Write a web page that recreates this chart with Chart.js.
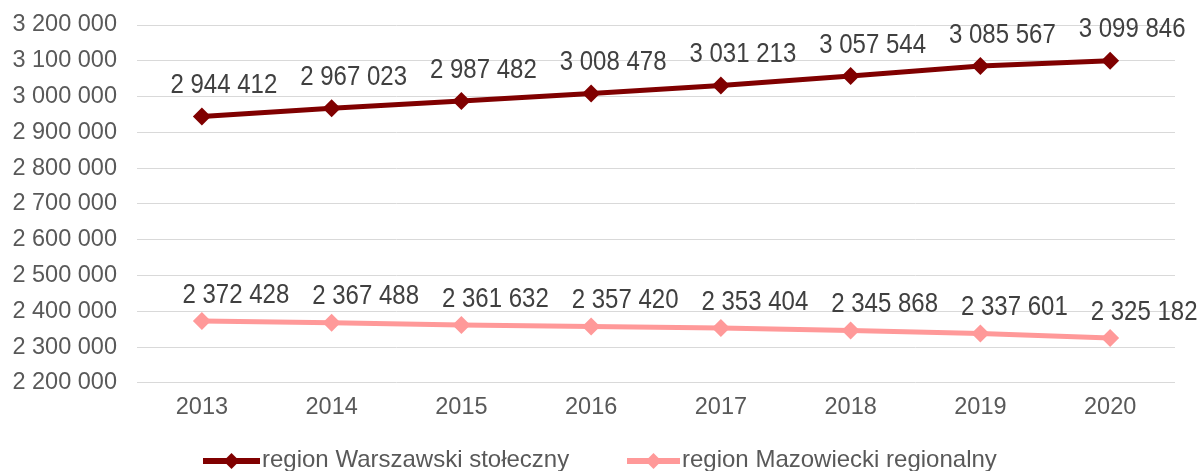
<!DOCTYPE html>
<html>
<head>
<meta charset="utf-8">
<script src="https://cdn.jsdelivr.net/npm/chart.js@4.4.1/dist/chart.umd.min.js"></script>
<style>
    html, body { margin: 0; padding: 0; background: #fff; overflow: hidden; }
    #wrap { width: 1199px; height: 471px; }
</style>
</head>
<body>
<div id="wrap"><canvas id="chart"></canvas></div>
<script>
// dane
const years = ['2013', '2014', '2015', '2016', '2017', '2018', '2019', '2020'];
const warszawski = [2944412, 2967023, 2987482, 3008478, 3031213, 3057544, 3085567, 3099846];
const mazowiecki = [2372428, 2367488, 2361632, 2357420, 2353404, 2345868, 2337601, 2325182];
const seriesNames = ['region Warszawski stołeczny', 'region Mazowiecki regionalny'];

const yMin = 2200000;
const yMax = 3200000;
const yStep = 100000;

const colors = ['#800000', '#ff9999'];
const textColor = '#595959';
const fontFamily = 'Arial, "Liberation Sans", sans-serif';

const fmt = n => String(n).replace(/\B(?=(\d{3})+(?!\d))/g, ' ');

// etykiety danych nad punktami
const labelOffsets = [{ dx: 22, dy: -31 }, { dx: 34, dy: -26 }];
const dataLabels = {
    id: 'dataLabels',
    afterDatasetsDraw(chart) {
        const ctx = chart.ctx;
        ctx.save();
        ctx.font = '24px ' + fontFamily;
        ctx.fillStyle = '#404040';
        ctx.textAlign = 'center';
        ctx.textBaseline = 'middle';
        chart.data.datasets.forEach((ds, i) => {
            const meta = chart.getDatasetMeta(i);
            meta.data.forEach((pt, j) => {
                const off = labelOffsets[i];
                ctx.save();
                ctx.translate(pt.x + off.dx, pt.y + off.dy);
                ctx.scale(1, 1.15);
                ctx.fillText(fmt(ds.data[j]), 0, 0);
                ctx.restore();
            });
        });
        ctx.restore();
    }
};

// legenda: linia z rombem + tekst
const legendItems = [{ x: 203, w: 57 }, { x: 627, w: 53 }];
const lineLegend = {
    id: 'lineLegend',
    afterDraw(chart) {
        const ctx = chart.ctx;
        const y = 461;
        ctx.save();
        chart.data.datasets.forEach((ds, i) => {
            const it = legendItems[i];
            const cx = it.x + it.w / 2, r = 8;
            ctx.strokeStyle = ds.borderColor;
            ctx.lineWidth = 6;
            ctx.beginPath();
            ctx.moveTo(it.x, y);
            ctx.lineTo(it.x + it.w, y);
            ctx.stroke();
            ctx.fillStyle = ds.borderColor;
            ctx.beginPath();
            ctx.moveTo(cx, y - r);
            ctx.lineTo(cx + r, y);
            ctx.lineTo(cx, y + r);
            ctx.lineTo(cx - r, y);
            ctx.closePath();
            ctx.fill();
            ctx.fillStyle = textColor;
            ctx.font = '24px ' + fontFamily;
            ctx.textAlign = 'left';
            ctx.textBaseline = 'middle';
            ctx.fillText(ds.label, it.x + it.w + 2, y - 1);
        });
        ctx.restore();
    }
};

const makeSet = (label, data, color) => ({
    label: label,
    data: data,
    borderColor: color,
    backgroundColor: color,
    borderWidth: 5,
    pointStyle: 'rectRot',
    pointRadius: 9,
    pointBorderWidth: 0,
    pointBackgroundColor: color,
    tension: 0
});

new Chart(document.getElementById('chart'), {
    type: 'line',
    data: {
        labels: years,
        datasets: [
            makeSet(seriesNames[0], warszawski, colors[0]),
            makeSet(seriesNames[1], mazowiecki, colors[1])
        ]
    },
    options: {
        responsive: true,
        maintainAspectRatio: false,
        animation: false,
        layout: { padding: { left: 10, right: 24, top: 25, bottom: 38 } },
        plugins: {
            legend: { display: false },
            tooltip: { enabled: false }
        },
        scales: {
            x: {
                offset: true,
                grid: { display: false, drawTicks: false },
                border: { display: false },
                ticks: {
                    padding: 11,
                    color: textColor,
                    font: { size: 23.5, family: fontFamily }
                }
            },
            y: {
                min: yMin,
                max: yMax,
                afterFit(scale) { scale.width = 127; },
                grid: { color: '#d9d9d9', lineWidth: 1, drawTicks: true, tickLength: 16, tickColor: 'rgba(0,0,0,0)' },
                border: { display: false },
                ticks: {
                    stepSize: yStep,
                    padding: 4,
                    color: textColor,
                    font: { size: 23.5, family: fontFamily },
                    callback: v => fmt(v)
                }
            }
        }
    },
    plugins: [dataLabels, lineLegend]
});
</script>
</body>
</html>
